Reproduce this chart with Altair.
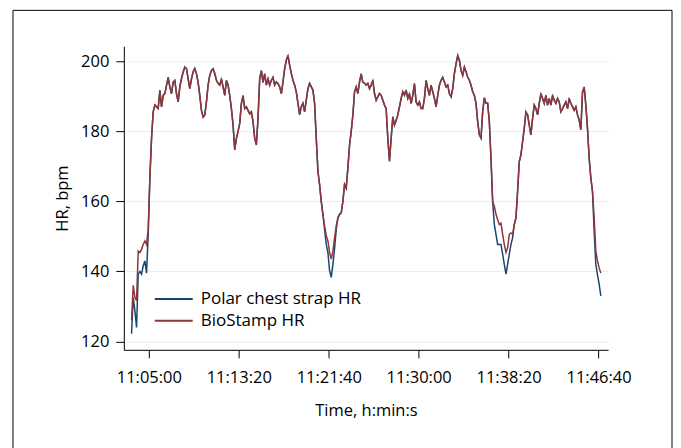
import altair as alt
import pandas as pd

SERIES = ["Polar chest strap HR", "BioStamp HR"]
COLORS = ["#1a476f", "#90353b"]

# sampling grid: seconds after 11:00:00
START_SEC = 204
STEP_SEC = 9.25

POLAR_HR = [
    122.2, 132.6, 128.8, 124.0, 139.2, 140.0, 139.2, 141.6, 143.0, 139.5,
    150.5, 166.7, 178.0, 185.6, 187.5, 187.0, 186.5, 191.8, 187.0, 190.3,
    190.8, 193.2, 195.5, 192.7, 190.8, 194.1, 194.6, 190.8, 188.4, 192.7,
    195.1, 197.0, 198.4, 197.9, 195.0, 192.2, 195.0, 197.0, 198.0, 196.5,
    194.0, 190.3, 186.0, 184.2, 184.7, 188.4, 193.2, 196.0, 197.4, 197.9,
    196.5, 194.6, 193.7, 193.2, 195.0, 192.7, 190.3, 194.6, 193.2, 190.3,
    186.5, 181.8, 174.7, 178.0, 180.0, 182.3, 188.0, 190.3, 186.5, 187.0,
    186.0, 185.0, 185.6, 182.8, 178.0, 176.1, 183.7, 195.0, 197.4, 194.0,
    196.5, 193.2, 195.0, 193.2, 194.6, 195.5, 193.2, 194.1, 193.7, 192.7,
    190.8, 194.1, 197.9, 200.3, 201.7, 198.9, 196.5, 194.6, 193.2, 191.3,
    188.0, 184.7, 187.0, 188.0, 185.6, 188.9, 192.2, 193.7, 192.7, 191.8,
    188.0, 178.0, 168.6, 164.8, 160.0, 156.3, 152.0, 147.7, 145.4, 140.2,
    138.3, 142.0, 146.5, 152.0, 155.3, 156.3, 156.7, 160.0, 164.8, 163.8,
    169.5, 176.1, 180.0, 184.7, 191.3, 192.7, 190.8, 194.1, 196.5, 194.0,
    193.8, 193.2, 193.7, 192.2, 193.2, 194.6, 190.8, 188.9, 189.9, 190.8,
    190.3, 188.9, 187.5, 186.5, 178.0, 171.4, 178.0, 184.2, 181.8, 183.2,
    184.7, 187.0, 189.4, 191.3, 190.3, 191.8, 189.4, 190.8, 188.0, 190.3,
    193.7, 188.4, 187.5, 188.4, 186.5, 186.5, 189.4, 194.6, 192.2, 190.3,
    193.2, 191.3, 189.4, 187.0, 190.3, 193.2, 194.6, 195.5, 194.1, 192.7,
    193.2, 190.8, 189.9, 192.2, 196.5, 199.3, 201.7, 200.3, 197.4, 196.0,
    198.4, 197.0, 195.5, 194.6, 193.2, 191.3, 190.3, 188.0, 182.8, 179.0,
    178.0, 185.6, 189.6, 188.0, 188.0, 182.8, 172.3, 160.0, 153.4, 150.6,
    147.7, 147.7, 147.7, 144.9, 142.0, 139.2, 142.0, 144.9, 147.7, 149.6,
    153.4, 155.3, 162.9, 171.4, 173.3, 177.1, 180.9, 185.6, 184.7, 181.8,
    179.0, 183.7, 187.5, 186.5, 184.7, 188.0, 190.8, 189.4, 188.0, 190.3,
    187.5, 189.4, 187.5, 190.3, 188.9, 188.0, 189.4, 188.4, 185.6, 186.5,
    187.5, 188.4, 186.5, 189.4, 188.0, 187.0, 186.0, 187.0, 184.7, 183.2,
    180.4, 191.3, 192.7, 187.5, 180.9, 172.3, 166.7, 162.9, 151.5, 142.0,
    139.0, 136.4, 133.0,
]

BIOSTAMP_HR = [
    126.0, 136.0, 132.6, 131.6, 145.8, 145.4, 146.3, 147.7, 148.7, 147.7,
    152.0, 166.7, 178.0, 185.6, 187.5, 187.0, 186.5, 191.5, 187.0, 190.3,
    190.8, 193.0, 195.2, 192.7, 190.8, 194.0, 194.4, 190.8, 188.4, 192.7,
    195.0, 196.8, 198.2, 197.9, 195.0, 192.2, 195.0, 197.0, 197.8, 196.5,
    194.0, 190.3, 186.0, 184.0, 184.7, 188.4, 193.2, 196.0, 197.4, 197.7,
    196.5, 194.6, 193.7, 193.2, 194.8, 192.7, 190.3, 194.4, 193.2, 190.3,
    186.5, 181.8, 174.9, 178.0, 180.0, 182.3, 188.0, 190.0, 186.5, 187.0,
    186.0, 185.0, 185.6, 182.8, 178.0, 176.3, 183.7, 195.0, 197.2, 194.0,
    196.3, 193.2, 195.0, 193.2, 194.6, 195.3, 193.2, 194.1, 193.7, 192.7,
    190.8, 194.1, 197.9, 200.3, 201.5, 198.9, 196.5, 194.6, 193.2, 191.3,
    188.0, 184.9, 187.0, 188.0, 185.6, 188.9, 192.2, 193.7, 192.7, 191.8,
    188.0, 178.0, 168.6, 164.8, 160.0, 156.3, 153.0, 150.2, 148.7, 145.4,
    143.5, 145.8, 149.5, 153.0, 155.3, 156.3, 156.7, 160.0, 164.8, 163.8,
    169.5, 176.1, 180.0, 184.7, 191.3, 192.7, 190.8, 194.1, 196.3, 194.0,
    193.8, 193.2, 193.7, 192.2, 193.2, 194.4, 190.8, 188.9, 189.9, 190.8,
    190.3, 188.9, 187.5, 186.5, 178.0, 171.6, 178.0, 184.0, 181.8, 183.2,
    184.7, 187.0, 189.4, 191.3, 190.3, 191.8, 189.4, 190.6, 188.0, 190.3,
    193.5, 188.4, 187.5, 188.4, 186.5, 186.5, 189.4, 194.4, 192.2, 190.3,
    193.2, 191.3, 189.4, 187.0, 190.3, 193.2, 194.6, 195.3, 194.1, 192.7,
    193.2, 190.8, 189.9, 192.2, 196.5, 199.3, 201.5, 200.3, 197.4, 196.0,
    198.2, 197.0, 195.5, 194.6, 193.2, 191.3, 190.3, 188.0, 182.8, 179.0,
    178.2, 185.6, 189.6, 188.0, 188.0, 182.8, 172.3, 160.0, 158.6, 156.3,
    154.8, 153.4, 153.8, 150.6, 147.7, 145.4, 146.8, 150.6, 151.0, 150.6,
    153.4, 155.3, 162.9, 171.4, 173.3, 177.1, 180.9, 185.4, 184.7, 181.8,
    179.0, 183.7, 187.5, 186.5, 184.7, 188.0, 190.6, 189.4, 188.0, 190.3,
    187.5, 189.4, 187.5, 190.1, 188.9, 188.0, 189.4, 188.4, 185.6, 186.5,
    187.5, 188.4, 186.5, 189.2, 188.0, 187.0, 186.0, 187.0, 184.7, 183.2,
    180.6, 191.1, 192.5, 187.5, 180.9, 172.3, 166.7, 162.9, 155.3, 145.8,
    143.0, 141.0, 139.5,
]

Y_TICKS = [120, 140, 160, 180, 200]
X_TICKS = [300, 800, 1300, 1800, 2300, 2800]   # seconds after 11:00:00
X_DOMAIN = [161, 2853]
Y_DOMAIN = [117.6, 204.3]

rows = []
for name, vals in zip(SERIES, [POLAR_HR, BIOSTAMP_HR]):
    for i, v in enumerate(vals):
        rows.append({"t": START_SEC + i * STEP_SEC, "hr": v, "series": name})
df = pd.DataFrame(rows)

FONT = "Open Sans"
label_expr = (
    "'11:' + (floor(datum.value/60) < 10 ? '0' : '') + floor(datum.value/60) + ':' + "
    "(datum.value % 60 < 10 ? '0' : '') + (datum.value % 60)"
)

x_enc = alt.X(
    "t:Q",
    scale=alt.Scale(domain=X_DOMAIN, nice=False, zero=False),
    axis=alt.Axis(values=X_TICKS, labelExpr=label_expr, title="Time, h:min:s",
                  grid=False, labelPadding=12, titlePadding=16),
)
y_enc = alt.Y(
    "hr:Q",
    scale=alt.Scale(domain=Y_DOMAIN, nice=False, zero=False),
    axis=alt.Axis(values=Y_TICKS, title="HR, bpm", grid=True, gridColor="#e8efef",
                  labelPadding=7, titlePadding=10),
)
color_enc = alt.Color(
    "series:N",
    scale=alt.Scale(domain=SERIES, range=COLORS),
    legend=alt.Legend(
        title=None, orient="none", legendX=39.5, legendY=242.5, padding=0,
        symbolType="M-2,0H2", symbolSize=361, symbolStrokeWidth=2,
        labelOffset=16.5, rowPadding=3, labelFontSize=17, labelFont=FONT,
        labelColor="#000", labelLimit=400,
    ),
)

base = alt.Chart(df).mark_line(strokeWidth=1.5, clip=True)
polar = base.encode(x=x_enc, y=y_enc, color=color_enc).transform_filter(
    alt.datum.series == SERIES[0])
bio = base.encode(x=x_enc, y=y_enc, color=color_enc).transform_filter(
    alt.datum.series == SERIES[1])

frame = alt.Chart(pd.DataFrame({"f": [0]})).mark_rect(
    fill="transparent", stroke="#000", strokeWidth=1
).encode(x=alt.value(-111), x2=alt.value(549), y=alt.value(-36), y2=alt.value(520))

chart = alt.layer(frame, polar, bio).properties(
    width=485, height=304,
    padding={"left": 116, "top": 38, "right": 65, "bottom": 100},
    autosize=alt.AutoSizeParams(type="none"),
    background="white",
).configure_view(stroke=None).configure_axis(
    labelFont=FONT, titleFont=FONT, labelFontSize=16.5, titleFontSize=16.5,
    labelColor="#000", titleColor="#000", titleFontWeight="normal",
    domainColor="#000", tickColor="#000", tickSize=8, domainWidth=1, tickWidth=1,
)

chart.save("out.html", embed_options={"renderer": "svg", "actions": False})
